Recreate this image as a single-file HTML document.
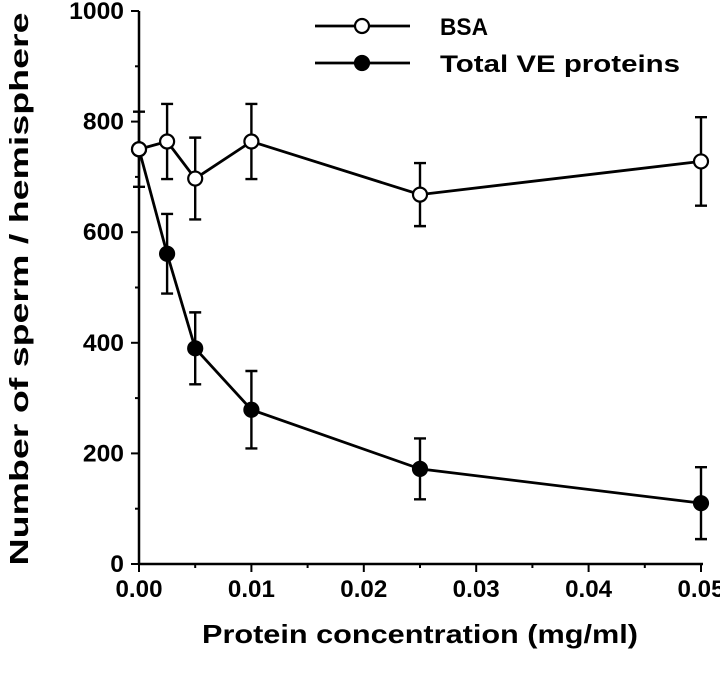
<!DOCTYPE html>
<html><head><meta charset="utf-8"><style>
body{margin:0;background:#fff}
svg text{font-family:"Liberation Sans",Arial,sans-serif;font-weight:bold;fill:#000}
</style></head><body>
<svg id="chart" width="720" height="682" viewBox="0 0 720 682" xmlns="http://www.w3.org/2000/svg">
<g id="axes"></g>
<g id="series"></g>
<g id="legend"></g>
<text x="28" y="289" font-size="26" text-anchor="middle" textLength="553" lengthAdjust="spacingAndGlyphs" transform="rotate(-90 28 289)">Number of sperm / hemisphere</text>
<text x="420" y="643" font-size="26" text-anchor="middle" textLength="436" lengthAdjust="spacingAndGlyphs">Protein concentration (mg/ml)</text>
</svg>
<script>
const xValues=[0,0.0025,0.005,0.01,0.025,0.05];
const bsaValues=[750,764,697,764,668,728];
const bsaErrors=[68,68,74,68,57,80];
const veValues=[750,561,390,279,172,110];
const veErrors=[0,72,65,70,55,65];
const xTicks=[0,0.01,0.02,0.03,0.04,0.05];
const xTickLabels=["0.00","0.01","0.02","0.03","0.04","0.05"];
const yTicks=[0,200,400,600,800,1000];
const yTickLabels=["0","200","400","600","800","1000"];

const NS="http://www.w3.org/2000/svg";
const X0=139,X1=701,Y0=564,Y1=11;
function sx(v){return X0+(v/0.05)*(X1-X0);}
function sy(v){return Y0-(v/1000)*(Y0-Y1);}
function mk(tag,attrs,parent){const e=document.createElementNS(NS,tag);for(const k in attrs)e.setAttribute(k,attrs[k]);parent.appendChild(e);return e;}
const axes=document.getElementById('axes');
let l=mk('line',{x1:X0,y1:Y0,x2:X1+2,y2:Y0,stroke:'#000','stroke-width':2.5},axes);


l=mk('line',{x1:X0,y1:Y0+1,x2:X0,y2:Y1,stroke:'#000','stroke-width':2.5},axes);


for(let v=0;v<=1000;v+=100){
  const major=v%200===0;
  const t=mk('line',{x1:X0-(major?8:4),y1:sy(v),x2:X0,y2:sy(v),stroke:'#000','stroke-width':2},axes);
  
  
}
yTicks.forEach((v,i)=>{
  const t=mk('text',{x:X0-15,y:sy(v)+8,'font-size':24,'text-anchor':'end',textLength:yTickLabels[i].length*13.7,lengthAdjust:'spacingAndGlyphs'},axes);
  t.textContent=yTickLabels[i];
  
  
});
for(let k=0;k<=10;k++){
  const v=k*0.005;const major=k%2===0;
  const t=mk('line',{x1:sx(v),y1:Y0,x2:sx(v),y2:Y0+(major?8:4),stroke:'#000','stroke-width':2},axes);
  
  
}
xTicks.forEach((v,i)=>{
  const t=mk('text',{x:sx(v),y:597,'font-size':24,'text-anchor':'middle',textLength:47,lengthAdjust:'spacingAndGlyphs'},axes);
  t.textContent=xTickLabels[i];
  
  
});
const series=document.getElementById('series');
function drawSeries(vals,errs,fill,name){
  const g=mk('g',{},series);
  
  
  const pl=mk('polyline',{points:xValues.map((x,i)=>sx(x)+','+sy(vals[i])).join(' '),fill:'none',stroke:'#000','stroke-width':2.8},g);
  
  
  xValues.forEach((x,i)=>{
    if(errs[i]>0){
      const cx=sx(x),top=sy(vals[i]+errs[i]),bot=sy(vals[i]-errs[i]);
      const eb=mk('path',{d:`M${cx},${top}V${bot}M${cx-6},${top}H${cx+6}M${cx-6},${bot}H${cx+6}`,stroke:'#000','stroke-width':2.4,fill:'none'},g);
      
      
    }
  });
  xValues.forEach((x,i)=>{
    const c=mk('circle',{cx:sx(x),cy:sy(vals[i]),r:7,fill:fill,stroke:'#000','stroke-width':2.2},g);
    
    
  });
}
drawSeries(veValues,veErrors,'#000','total-ve');
drawSeries(bsaValues,bsaErrors,'#fff','bsa');
const legend=document.getElementById('legend');
[['BSA','#fff',26,'legend-entry-bsa',48],['Total VE proteins','#000',63,'legend-entry-ve',240]].forEach(([lab,fill,y,nm,len])=>{
  const g=mk('g',{},legend);
  
  
  mk('line',{x1:315,y1:y,x2:410,y2:y,stroke:'#000','stroke-width':2.8},g);
  mk('circle',{cx:362,cy:y,r:7,fill:fill,stroke:'#000','stroke-width':2.2},g);
  const t=mk('text',{x:440,y:y+9,'font-size':24,textLength:len,lengthAdjust:'spacingAndGlyphs'},g);
  t.textContent=lab;
});
</script>
</body></html>
